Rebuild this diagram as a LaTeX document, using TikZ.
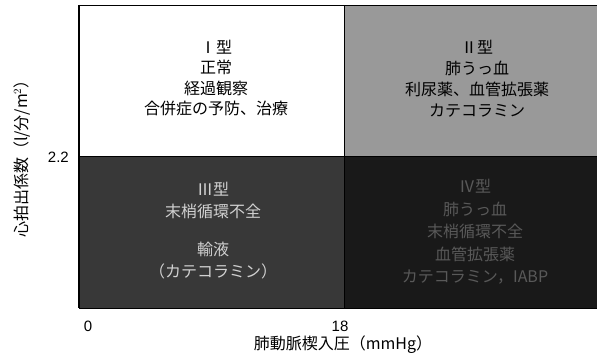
\documentclass[tikz,border=0pt]{standalone}
\usepackage{fontspec}
\setmainfont{Noto Sans CJK JP}
\newfontfamily\digitfont{Liberation Sans}
\begin{document}
\begin{tikzpicture}[x=1pt,y=-1pt,
  quad/.style={draw=black,line width=0.8pt,inner sep=0pt,outer sep=0pt,anchor=north west},
  qtext/.style={align=center,font=\fontsize{16}{20.5}\selectfont,inner sep=0pt},
  tick/.style={font=\digitfont\fontsize{15}{16}\selectfont,inner sep=0pt}]
\useasboundingbox (0,0) rectangle (597,361);
\fill[white] (0,0) rectangle (597,361);
% quadrants
\node[quad,fill=white,minimum width=265pt,minimum height=151pt] (q1) at (79,5) {};
\node[quad,fill=black!40,minimum width=253pt,minimum height=151pt] (q2) at (344,5) {};
\node[quad,fill=black!78,minimum width=265pt,minimum height=152pt] (q3) at (79,156) {};
\node[quad,fill=black!90,minimum width=253pt,minimum height=152pt] (q4) at (344,156) {};
% axes
\draw[line width=1.4pt] (q1.north west) -- (q3.south west);
\draw[line width=1pt] (q3.south west) -- (q4.south east);
% texts
\node[qtext] (t1) at (216,78) {Ⅰ型\\正常\\経過観察\\合併症の予防、治療};
\node[qtext,font=\fontsize{16}{21}\selectfont] (t2) at (477,79) {Ⅱ型\\肺うっ血\\利尿薬、血管拡張薬\\カテコラミン};
\node[qtext,text=black!18,font=\fontsize{16}{22}\selectfont] (t3) at (213,231) {Ⅲ型\\末梢循環不全\\[16pt]輸液\\（カテコラミン）};
\node[qtext,text=black!65,font=\fontsize{16}{22.5}\selectfont] (t4) at (475,232) {Ⅳ型\\肺うっ血\\末梢循環不全\\血管拡張薬\\カテコラミン，IABP};
% tick labels
\node[tick,anchor=east] (y22) at (69,157) {2.2};
\node[tick] (x0) at (88,326) {0};
\node[tick] (x18) at (340,326) {18};
\node[inner sep=0pt,font=\fontsize{16}{18}\selectfont] (xl) at (343,345) {肺動脈楔入圧（mmHg）};
\node[inner sep=0pt,rotate=90,font=\fontsize{16}{18}\selectfont] (yl) at (22,155) {心拍出係数（\textit{l}/分/m$^2$）};
\end{tikzpicture}
\end{document}
